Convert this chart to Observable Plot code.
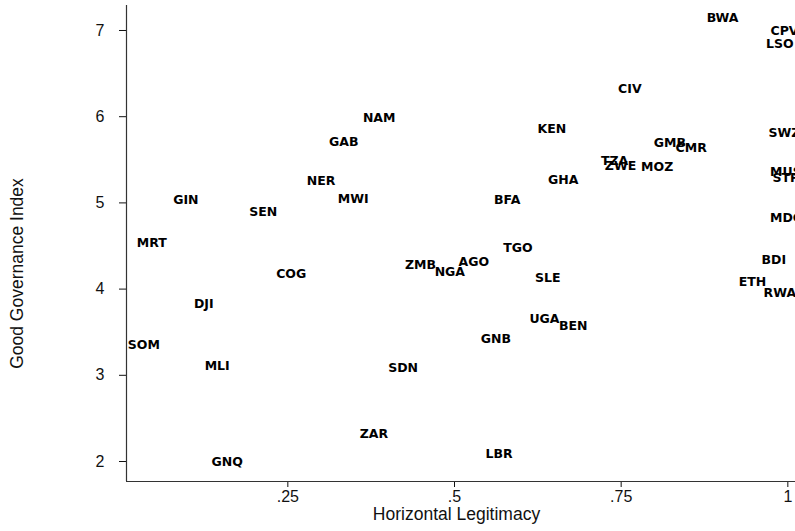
<!DOCTYPE html>
<html>
<head>
<meta charset="utf-8">
<script src="https://cdn.jsdelivr.net/npm/d3@7"></script>
<script src="https://cdn.jsdelivr.net/npm/@observablehq/plot@0.6"></script>
<style>
  html, body { margin: 0; padding: 0; background: #fff; }
  #chart { width: 795px; height: 531px; overflow: hidden; }
</style>
</head>
<body>
<div id="chart"></div>
<script>
// Country codes and values (Horizontal Legitimacy, Good Governance Index)
const codes = ["BWA","CPV","LSO","CIV","NAM","KEN","GAB","SWZ","GMB","CMR","TZA","ZWE","MOZ","MUS","STP",
  "GHA","NER","MWI","GIN","BFA","SEN","MDG","MRT","TGO","AGO","ZMB","NGA","BDI","COG","SLE","ETH","RWA",
  "DJI","UGA","BEN","GNB","SOM","MLI","SDN","ZAR","LBR","GNQ"];
const legitimacy = [0.902,0.995,0.988,0.763,0.387,0.646,0.334,0.995,0.823,0.855,0.740,0.749,0.804,0.997,0.997,
  0.663,0.300,0.348,0.097,0.579,0.213,0.998,0.046,0.595,0.529,0.449,0.493,0.979,0.255,0.640,0.947,0.988,
  0.124,0.635,0.678,0.562,0.034,0.144,0.423,0.379,0.567,0.159];
const governance = [7.15,6.99,6.84,6.32,5.98,5.86,5.71,5.81,5.70,5.64,5.49,5.43,5.42,5.36,5.29,
  5.26,5.25,5.04,5.03,5.03,4.90,4.83,4.54,4.48,4.32,4.285,4.20,4.34,4.18,4.13,4.08,3.96,
  3.83,3.65,3.57,3.42,3.35,3.11,3.09,2.32,2.09,2.00];

const xTicks = [0.25, 0.5, 0.75, 1];
const xTickLabels = [".25", ".5", ".75", "1"];
const yTicks = [2, 3, 4, 5, 6, 7];
const yTickLabels = ["2", "3", "4", "5", "6", "7"];
const xDomain = [0.008, 1.0115];
const yDomain = [1.768, 7.29];

const rows = codes.map((c, i) => ({code: c, x: legitimacy[i], y: governance[i]}));

const chart = Plot.plot({
  width: 795,
  height: 531,
  marginLeft: 126,
  marginRight: 0,
  marginTop: 5,
  marginBottom: 50,
  style: {fontFamily: "'Liberation Sans', Arial, sans-serif", fontSize: "16px", color: "#111", background: "#fff"},
  x: {domain: xDomain},
  y: {domain: yDomain},
  marks: [
    Plot.axisX({ticks: xTicks, tickSize: 6, tickPadding: 3, tickFormat: d => xTickLabels[xTicks.indexOf(d)], label: null, fontSize: 16}),
    Plot.axisY({ticks: yTicks, tickSize: 7, tickPadding: 15, tickFormat: d => yTickLabels[yTicks.indexOf(d)], label: null, fontSize: 16}),
    Plot.ruleX([xDomain[0]], {stroke: "#333", strokeWidth: 1.2}),
    Plot.ruleY([yDomain[0]], {stroke: "#333", strokeWidth: 1.2}),
    Plot.text(rows, {x: "x", y: "y", text: "code", fontFamily: "'DejaVu Sans', sans-serif", fontWeight: "bold", fontSize: 12.5, fill: "#000"}),
    Plot.text(["Good Governance Index"], {frameAnchor: "left", textAnchor: "middle", rotate: -90, dx: -109, dy: 30, fontSize: 17.5, fill: "#111"}),
    Plot.text(["Horizontal Legitimacy"], {frameAnchor: "bottom", textAnchor: "middle", dx: -4.5, dy: 38, fontSize: 17.5, fill: "#111"})
  ]
});
document.getElementById("chart").appendChild(chart);
</script>
</body>
</html>
